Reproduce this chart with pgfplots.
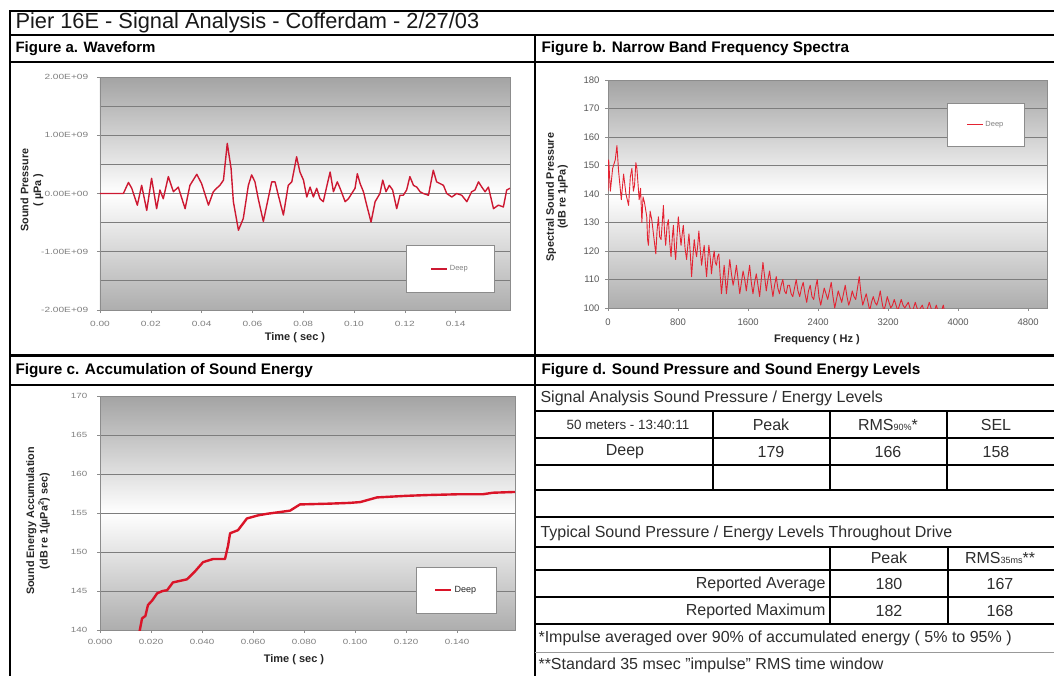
\documentclass[border=0pt]{standalone}
\usepackage{fontspec}
\setmainfont{Liberation Sans}
\usepackage{pgfplots}
\pgfplotsset{compat=1.18}
\definecolor{wave}{RGB}{205,25,50}
\definecolor{spec}{RGB}{228,35,50}
\definecolor{accum}{RGB}{218,20,40}
\definecolor{gridc}{RGB}{125,125,125}
\definecolor{txt}{RGB}{45,45,45}
\newcommand{\fs}[1]{\fontsize{#1}{#1}\selectfont}
\pgfplotsset{
  excel/.style={
    scale only axis, anchor=south west,
    axis background/.style={shade, top color=black!36, bottom color=black!32, middle color=white},
    axis line style={black!45},
    ymajorgrids, grid style={gridc, line width=0.9pt},
    tick align=outside, major tick length=3pt, minor tick length=0pt,
    tick style={black!45, line width=0.6pt},
    tick pos=left,
    /pgf/number format/assume math mode=true,
    legend cell align=left,
    legend image code/.code={\draw[##1] (0pt,0pt) -- (16pt,0pt);},
  }
}
\pgfplotstableread{
t v
0 0
0.0092 0
0.0112 0.19
0.0125 0.09
0.0147 -0.20
0.0164 0.14
0.0184 -0.29
0.0203 0.26
0.0223 -0.26
0.0236 0.06
0.0249 -0.09
0.0269 0.29
0.0289 0.03
0.0308 0.11
0.0335 -0.26
0.0354 0.14
0.0381 0.33
0.0400 0.17
0.0427 -0.20
0.0446 0.03
0.0459 0.09
0.0472 0.14
0.0486 0.23
0.0501 0.86
0.0516 0.43
0.0525 -0.14
0.0545 -0.63
0.0564 -0.43
0.0584 0.14
0.0597 0.32
0.0610 0.20
0.0623 -0.09
0.0643 -0.48
0.0676 0.20
0.0689 0.20
0.0702 -0.03
0.0722 -0.37
0.0741 0.14
0.0755 0.20
0.0774 0.63
0.0787 0.37
0.0801 0.23
0.0814 -0.06
0.0827 0.11
0.0840 -0.06
0.0853 0.09
0.0866 -0.09
0.0879 -0.14
0.0892 0.11
0.0906 0.37
0.0919 0.03
0.0934 0.20
0.0945 0.09
0.0965 -0.14
0.0978 -0.09
0.0991 0.00
0.1004 0.09
0.1013 0.34
0.1024 0.17
0.1037 0.03
0.1050 -0.20
0.1067 -0.49
0.1083 -0.14
0.1102 0.00
0.1113 0.23
0.1126 0.03
0.1139 0.14
0.1152 0.06
0.1168 -0.26
0.1181 -0.03
0.1194 -0.03
0.1207 0.06
0.1220 0.29
0.1234 0.14
0.1247 0.11
0.1260 0.03
0.1273 0.00
0.1293 -0.03
0.1312 0.40
0.1325 0.20
0.1339 0.17
0.1352 0.14
0.1365 0.00
0.1385 -0.06
0.1404 0.00
0.1424 -0.03
0.1444 -0.14
0.1463 0.03
0.1476 0.06
0.1490 0.20
0.1503 0.11
0.1516 0.03
0.1529 0.11
0.1549 -0.26
0.1568 -0.20
0.1588 -0.23
0.1601 0.06
0.1614 0.09
}\wavetable
\pgfplotstableread{
f db
0 141
8 152
27 141
53 149
83 152
102 157
121 148
152 138
178 147
205 140
235 136
255 146
273 149
290 141
303 143
318 151
330 149
356 138
372 142
387 130
400 139
417 137
443 132
452 124
462 122
481 134
500 131
519 126
546 119
560 127
576 132
590 125
606 124
620 130
633 136
645 127
659 122
675 129
690 131
705 123
720 118
735 125
747 129
760 121
773 117
788 125
803 132
818 127
834 122
848 126
860 129
880 121
898 117
912 122
925 126
940 119
955 111
970 118
985 124
1000 120
1012 118
1025 122
1038 127
1055 120
1069 115
1085 119
1099 122
1112 116
1126 111
1140 117
1152 122
1167 118
1182 112
1198 117
1213 120
1225 116
1239 115
1252 118
1266 119
1280 112
1296 105
1312 110
1327 115
1340 110
1353 105
1372 111
1391 117
1410 112
1429 108
1448 111
1467 115
1486 110
1505 105
1524 109
1543 113
1562 110
1580 106
1600 111
1618 115
1637 109
1656 105
1675 109
1694 112
1713 108
1732 104
1751 110
1770 116
1789 111
1808 106
1827 110
1846 113
1865 108
1884 104
1903 108
1922 111
1940 107
1959 105
1978 108
1997 110
2016 106
2035 105
2054 108
2073 108
2092 105
2111 104
2150 110
2170 106
2190 104
2210 107
2230 109
2250 105
2270 102
2290 106
2310 108
2330 104
2350 103
2370 107
2390 110
2410 104
2430 101
2450 104
2470 107
2490 105
2510 103
2530 106
2550 109
2570 104
2590 100
2610 103
2630 106
2650 104
2670 102
2690 105
2710 108
2730 104
2750 101
2770 103
2790 106
2810 104
2830 103
2850 107
2870 111
2890 105
2910 101
2930 103
2950 105
2970 102
2990 99
3010 102
3030 104
3050 102
3070 101
3090 103
3110 106
3130 102
3150 99
3170 101
3190 104
3210 102
3230 100
3250 101
3270 103
3290 101
3310 99
3330 101
3350 103
3370 101
3390 100
3410 101
3430 102
3450 100
3470 98
3490 100
3510 102
3530 100
3550 99
3570 100
3590 101
3610 99
3630 98
3650 100
3670 102
3690 100
3710 98
3730 99
3750 101
3770 99
3790 97
3810 99
3830 101
3850 98
3870 96
3890 98
3910 99
3930 97
3950 95
3990 94
}\spectable
\pgfplotstableread{
t db
0.0155 139.8
0.0165 141.5
0.0178 141.8
0.0188 143.2
0.0205 143.8
0.0224 144.7
0.0245 145.0
0.0263 145.1
0.0286 146.1
0.0341 146.5
0.0372 147.5
0.0404 148.7
0.0443 149.1
0.0490 149.1
0.0502 150.8
0.0510 152.4
0.0541 152.8
0.0576 154.3
0.0620 154.7
0.0655 154.9
0.0700 155.1
0.0745 155.3
0.0784 156.1
0.0900 156.2
0.0980 156.3
0.1020 156.4
0.1086 157.0
0.1200 157.2
0.1280 157.3
0.1400 157.4
0.1500 157.4
0.1540 157.6
0.1627 157.7
}\accumtable
\begin{document}
\begin{tikzpicture}
\path[use as bounding box] (0pt,0pt) rectangle (1054pt,-675pt);
\fill[white] (0pt,0pt) rectangle (1054pt,-675pt);

% Figure a
\begin{axis}[excel, at={(100pt,-310pt)}, width=410pt, height=233pt,
  xmin=0, xmax=0.1614, ymin=-2, ymax=2,
  xtick={0,0.02,0.04,0.06,0.08,0.10,0.12,0.14},
  xticklabels={0.00,0.02,0.04,0.06,0.08,0.10,0.12,0.14},
  ytick={-2,-1,0,1,2},
  yticklabels={-2.00E+09,-1.00E+09,0.00E+00,1.00E+09,2.00E+09},
  minor ytick={-1.5,-0.5,0.5,1.5}, yminorgrids, minor grid style={gridc, line width=0.9pt},
  ticklabel style={font=\fs{7.5}, text=black!50, xscale=1.35},
  xticklabel style={yshift=-5pt},
  yticklabel style={xshift=-3pt},
  legend style={at={(0.854,0.176)}, anchor=center, draw=black!45, fill=white,
    font=\fs{7.5}, text=black!50, inner xsep=24pt, inner ysep=18pt},
]
\addplot[wave, line width=1.4pt, line join=round] table[x=t, y=v] {\wavetable};
\addlegendentry{Deep}
\end{axis}

% Figure b
\begin{axis}[excel, at={(608pt,-308pt)}, width=439pt, height=228pt,
  xmin=0, xmax=5015, ymin=100, ymax=180,
  xtick={0,800,1600,2400,3200,4000,4800},
  xticklabels={0,800,1600,2400,3200,4000,4800},
  ytick={100,110,...,180},
  yticklabels={100,110,120,130,140,150,160,170,180},
  ticklabel style={font=\fs{9.5}, text=black!65},
  xticklabel style={yshift=-4pt},
  yticklabel style={xshift=-2pt},
  legend style={at={(0.861,0.803)}, anchor=center, draw=black!45, fill=white,
    font=\fs{7.5}, text=black!50, inner xsep=19pt, inner ysep=16pt},
]
\addplot[spec, line width=0.9pt, line join=round] table[x=f, y=db] {\spectable};
\addlegendentry{Deep}
\end{axis}

% Figure c
\begin{axis}[excel, at={(100pt,-630pt)}, width=415pt, height=234pt,
  xmin=0, xmax=0.1627, ymin=140, ymax=170,
  xtick={0,0.02,0.04,0.06,0.08,0.10,0.12,0.14},
  xticklabels={0.000,0.020,0.040,0.060,0.080,0.100,0.120,0.140},
  ytick={140,145,...,170},
  yticklabels={140,145,150,155,160,165,170},
  ticklabel style={font=\fs{7.5}, text=black!50, xscale=1.3},
  xticklabel style={yshift=-3pt},
  yticklabel style={xshift=-4pt},
  legend style={at={(0.858,0.171)}, anchor=center, draw=black!45, fill=white,
    font=\fs{9}, text=black!85, inner xsep=18pt, inner ysep=17pt},
]
\addplot[accum, line width=2.4pt, line join=round] table[x=t, y=db] {\accumtable};
\addlegendentry{Deep}
\end{axis}

\begin{scope}[x=1pt, y=-1pt]
% frame
\draw[line width=2pt] (9.5,11) -- (1054,11);
\draw[line width=2pt] (9.5,10) -- (9.5,676);
\draw[line width=1.6pt] (9.5,35) -- (1054,35);
\draw[line width=1.6pt] (9.5,62) -- (1054,62);
\draw[line width=1.6pt] (535,35) -- (535,676);
\draw[line width=3pt] (9.5,355) -- (1054,355);
\draw[line width=1.6pt] (9.5,385) -- (1054,385);
% titles
\node[anchor=west, font=\fs{21.8}, text=black!90] at (12,23) {Pier 16E - Signal Analysis - Cofferdam - 2/27/03};
\node[anchor=west, font=\bfseries\fs{15}] at (12,49) {Figure a. Waveform};
\node[anchor=west, font=\bfseries\fs{15.3}] at (538,49) {Figure b. Narrow Band Frequency Spectra};
\node[anchor=west, font=\bfseries\fs{15.3}] at (12,371) {Figure c. Accumulation of Sound Energy};
\node[anchor=west, font=\bfseries\fs{15.3}] at (538,371) {Figure d. Sound Pressure and Sound Energy Levels};
% axis labels
\node[font=\bfseries\fs{11}, text=black!85] at (295,338) {Time ( sec )};
\node[font=\bfseries\fs{11}, text=black!85] at (817,340) {Frequency ( Hz )};
\node[font=\bfseries\fs{11}, text=black!85] at (294,660) {Time ( sec )};
\node[rotate=90, font=\bfseries\fs{10.8}, text=black!85, align=center] at (32,190) {Sound Pressure\\[2pt]( µPa )};
\node[rotate=90, font=\bfseries\fs{10.8}, text=black!85, align=center] at (557,197) {Spectral Sound Pressure\\[1pt](dB re 1µPa)};
\node[rotate=90, font=\bfseries\fs{10.8}, text=black!85, align=center] at (38,521) {Sound Energy Accumulation\\[1pt](dB re 1(µPa\textsuperscript{2}) sec)};
% table d
\draw[line width=1.3pt] (535,411) -- (1054,411);
\draw[line width=1.3pt] (535,438) -- (1054,438);
\draw[line width=1.3pt] (535,465) -- (1054,465);
\draw[line width=1.3pt] (535,490) -- (1054,490);
\draw[line width=1.3pt] (713,411) -- (713,490);
\draw[line width=1.3pt] (830,411) -- (830,490);
\draw[line width=1.3pt] (947,411) -- (947,490);
\draw[line width=1.3pt] (535,517) -- (1054,517);
\draw[line width=1.3pt] (535,547) -- (1054,547);
\draw[line width=1.3pt] (535,570) -- (1054,570);
\draw[line width=1.3pt] (535,597) -- (1054,597);
\draw[line width=1.3pt] (535,624) -- (1054,624);
\draw[line width=1.3pt] (830,547) -- (830,624);
\draw[line width=1.3pt] (948,547) -- (948,624);
\draw[line width=0.6pt, black!40] (535,652) -- (1054,652);
\begin{scope}[every node/.style={font=\fs{16}, text=txt}]
\node[anchor=west] at (537,398) {Signal Analysis Sound Pressure / Energy Levels};
\node[font=\fs{13.4}] at (628,425) {50 meters - 13:40:11};
\node at (771,425) {Peak};
\node at (888,425) {RMS{\fs{9}90\%}*};
\node at (996,425) {SEL};
\node at (625,452) {Deep};
\node at (771,452) {179};
\node at (888,452) {166};
\node at (996,452) {158};
\node[anchor=west] at (537,533) {Typical Sound Pressure / Energy Levels Throughout Drive};
\node at (889,558) {Peak};
\node at (1000,558) {RMS{\fs{9}35ms}**};
\node[anchor=east] at (829,584) {Reported Average};
\node at (889,584) {180};
\node at (1000,584) {167};
\node[anchor=east] at (829,611) {Reported Maximum};
\node at (889,611) {182};
\node at (1000,611) {168};
\node[anchor=west] at (535,638) {*Impulse averaged over 90\% of accumulated energy ( 5\% to 95\% )};
\node[anchor=west] at (535,665) {**Standard 35 msec "impulse" RMS time window};
\end{scope}
\end{scope}
\end{tikzpicture}
\end{document}
